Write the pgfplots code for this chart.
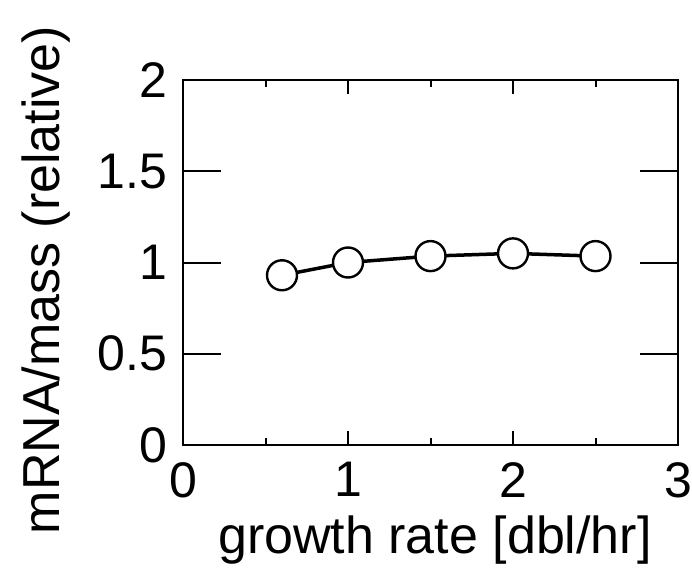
\documentclass[border=0pt]{standalone}
\usepackage{fontspec}
\setmainfont{Liberation Sans}
\usepackage{pgfplots}
\pgfplotsset{compat=1.18}

\begin{document}
\begin{tikzpicture}
\useasboundingbox (-183pt,-128pt) rectangle (509pt,445pt);
\begin{axis}[
  at={(0,0)}, anchor=south west,
  scale only axis,
  width=495pt, height=365pt,
  xmin=0, xmax=3, ymin=0, ymax=2,
  xtick={0,1,2,3},
  minor xtick={0.5,1.5,2.5},
  ytick={0,0.5,1,1.5,2},
  yticklabels={0,0.5,1,1.5,2},
  extra y ticks={0.5,1,1.5},
  extra y tick labels={},
  extra y tick style={major tick length=38pt},
  major tick length=14pt,
  minor tick length=7pt,
  tick align=inside,
  axis line style={line width=2.4pt},
  every tick/.style={black, line width=2pt},
  tick label style={font=\fontsize{50}{54}\selectfont},
  xticklabel style={yshift=-14pt},
  yticklabel style={xshift=-12pt},
  /pgf/number format/assume math mode=true,
  xlabel={growth rate [dbl/hr]},
  ylabel={mRNA/mass (relative)},
  label style={font=\fontsize{52}{56}\selectfont},
  xlabel style={at={(axis description cs:0.509,-0.296)}, anchor=base},
  ylabel style={at={(axis description cs:-0.2485,0.452)}, anchor=base, rotate=0},
]
\addplot[black, sharp plot, line width=3.5pt, mark=*,
  mark options={fill=white, draw=black, line width=2.4pt}, mark size=15pt]
  coordinates {(0.6,0.93) (1,1.0) (1.5,1.035) (2,1.05) (2.5,1.035)};
\end{axis}
\end{tikzpicture}
\end{document}
